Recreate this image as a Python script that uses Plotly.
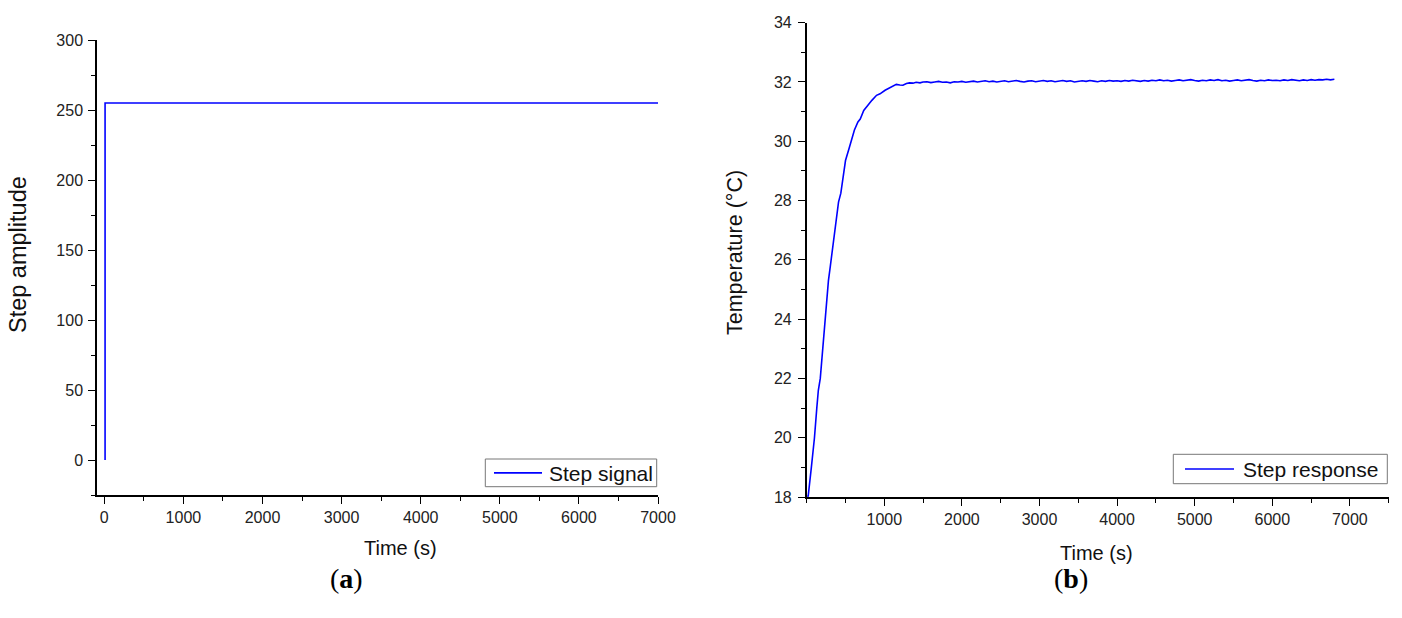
import plotly.graph_objects as go

# ---------------- data ----------------
# (a) step signal
step_time = [10, 10, 7000]
step_amp = [0, 255, 255]

# (b) step response: rising part
rise_time = [15, 20, 60, 100, 130, 150, 175, 200, 230, 255, 280, 305, 335, 365,
             395, 410, 440, 470, 500, 545, 585, 615, 660, 690, 735, 775, 840,
             900, 945, 1010, 1070, 1110, 1155, 1200, 1240, 1285, 1325, 1370,
             1410, 1460, 1500]
rise_temp = [18.0, 18.05, 19.0, 20.0, 21.0, 21.6, 22.0, 22.85, 23.75, 24.7,
             25.3, 25.8, 26.45, 27.0, 27.75, 27.95, 28.25, 28.8, 29.35, 29.75,
             30.15, 30.38, 30.65, 30.75, 31.04, 31.18, 31.38, 31.55, 31.6,
             31.72, 31.8, 31.84, 31.92, 31.9, 31.89, 31.95, 31.97, 31.96,
             31.99, 31.97, 32.0]
# plateau, sampled every 50 s from 1550 s to 6800 s
plateau_time = list(range(1550, 6801, 50))
plateau_temp = [
    32.01, 31.98, 32.00, 32.02, 31.99, 32.00, 31.97, 32.01, 32.00, 32.02,
    31.99, 32.01, 32.03, 32.00, 32.02, 32.04, 32.01, 32.03, 32.00, 32.02,
    32.04, 32.01, 32.03, 32.05, 32.02, 32.00, 32.03, 32.04, 32.01, 32.03,
    32.05, 32.02, 32.04, 32.01, 32.03, 32.05, 32.02, 32.04, 32.00, 32.03,
    32.04, 32.02, 32.05, 32.03, 32.01, 32.04, 32.02, 32.05, 32.03, 32.04,
    32.02, 32.05, 32.03, 32.06, 32.04, 32.02, 32.05, 32.03, 32.06, 32.04,
    32.07, 32.04, 32.06, 32.03, 32.05, 32.07, 32.04, 32.06, 32.08, 32.05,
    32.03, 32.06, 32.04, 32.07, 32.05, 32.08, 32.04, 32.06, 32.03, 32.05,
    32.07, 32.04, 32.06, 32.08, 32.05, 32.03, 32.06, 32.04, 32.07, 32.05,
    32.06, 32.04, 32.07, 32.05, 32.08, 32.06, 32.04, 32.07, 32.05, 32.08,
    32.06, 32.08, 32.07, 32.09, 32.07, 32.09,
]
resp_time = rise_time + plateau_time
resp_temp = rise_temp + plateau_temp

xa_ticks = [0, 1000, 2000, 3000, 4000, 5000, 6000, 7000]
ya_ticks = [0, 50, 100, 150, 200, 250, 300]
xb_ticks = [1000, 2000, 3000, 4000, 5000, 6000, 7000]
yb_ticks = [18, 20, 22, 24, 26, 28, 30, 32, 34]

names = ["Step signal", "Step response"]

# ---------------- layout helpers ----------------
W, H = 1402, 618
def px(x):
    return x / W
def py(y):
    return 1 - y / H

FONT = "Liberation Sans, Arial, sans-serif"
BLUE = "#0000FF"

fig = go.Figure()
fig.add_trace(go.Scatter(x=step_time, y=step_amp, mode="lines", name=names[0],
                         line=dict(color=BLUE, width=1.6), xaxis="x", yaxis="y"))
fig.add_trace(go.Scatter(x=resp_time, y=resp_temp, mode="lines", name=names[1],
                         line=dict(color=BLUE, width=1.6), xaxis="x2", yaxis="y2"))

axis_common = dict(showline=True, linecolor="black", linewidth=1.5, showgrid=False,
                   zeroline=False, ticks="outside", ticklen=7, tickwidth=1.4,
                   tickcolor="black", tickfont=dict(family=FONT, size=16, color="#222"),
                   mirror=False, automargin=False)
minor_common = dict(ticks="outside", ticklen=4, tickwidth=1.4, tickcolor="black",
                    showgrid=False)

fig.update_layout(
    template="none",
    width=W, height=H, margin=dict(l=0, r=0, t=0, b=0, pad=0, autoexpand=False),
    paper_bgcolor="white", plot_bgcolor="white",
    showlegend=False, hovermode=False,
    xaxis=dict(axis_common, domain=[px(97), px(658)], range=[-92, 7000],
               tickmode="array", tickvals=xa_ticks, anchor="y",
               minor=dict(minor_common, dtick=500, tick0=0)),
    yaxis=dict(axis_common, domain=[py(495), py(40)], range=[-25, 300],
               tickmode="array", tickvals=ya_ticks, anchor="x", ticklabelstandoff=2,
               minor=dict(minor_common, dtick=25, tick0=0)),
    xaxis2=dict(axis_common, domain=[px(806.7), px(1388.7)], range=[0, 7500],
                tickmode="array", tickvals=xb_ticks, anchor="y2",
                minor=dict(minor_common, dtick=500, tick0=0)),
    yaxis2=dict(axis_common, domain=[py(497), py(22.7)], range=[18, 34],
                tickmode="array", tickvals=yb_ticks, anchor="x2", ticklabelstandoff=3,
                minor=dict(minor_common, dtick=1, tick0=18)),
)

# axis titles
ann = [
    dict(text="Time (s)", x=px(401), y=py(548), size=20, angle=0),
    dict(text="Step amplitude", x=px(18), y=py(255), size=23.5, angle=-90),
    dict(text="Time (s)", x=px(1096), y=py(553), size=20, angle=0),
    dict(text="Temperature (°C)", x=px(735), y=py(253), size=21.5, angle=-90),
]
for a in ann:
    fig.add_annotation(text=a["text"], x=a["x"], y=a["y"], xref="paper", yref="paper",
                       xanchor="center", yanchor="middle", showarrow=False,
                       textangle=a["angle"],
                       font=dict(family=FONT, size=a["size"], color="#111"))

# legends (box, line sample, label)
legend_boxes = [
    dict(x0=485.3, x1=656.7, y0=459, y1=486.7, lx0=494, lx1=542, tx=546.7),
    dict(x0=1173.3, x1=1387.3, y0=454.3, y1=483.7, lx0=1185, lx1=1234, tx=1240.7),
]
for nm, b in zip(names, legend_boxes):
    yc = (b["y0"] + b["y1"]) / 2
    fig.add_shape(type="rect", xref="paper", yref="paper",
                  x0=px(b["x0"]), x1=px(b["x1"]), y0=py(b["y1"]), y1=py(b["y0"]),
                  line=dict(color="#777", width=1), fillcolor="white", layer="above")
    fig.add_shape(type="line", xref="paper", yref="paper",
                  x0=px(b["lx0"]), x1=px(b["lx1"]), y0=py(yc), y1=py(yc),
                  line=dict(color=BLUE, width=1.6), layer="above")
    fig.add_annotation(text=nm, x=px(b["tx"]), y=py(yc + 0.5), xref="paper", yref="paper",
                       xanchor="left", yanchor="middle", showarrow=False,
                       font=dict(family=FONT, size=21, color="#111"))

for lbl, xc in [("a", 346), ("b", 1071)]:
    fig.add_annotation(text=f"(<b>{lbl}</b>)", x=px(xc), y=py(578), xref="paper",
                       yref="paper", xanchor="center", yanchor="middle",
                       showarrow=False,
                       font=dict(family="Liberation Serif, Times New Roman, serif",
                                 size=28, color="black"))

fig.write_html("out.html", config={"displayModeBar": False},
               post_script="document.body.style.margin='0';"
                           "document.body.style.overflow='hidden';")
